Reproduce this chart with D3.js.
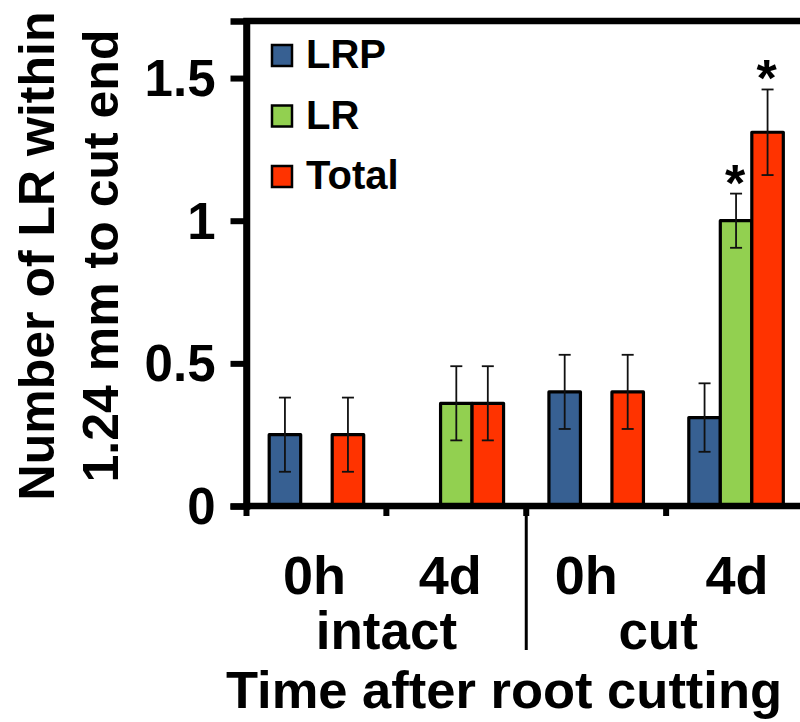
<!DOCTYPE html>
<html>
<head>
<meta charset="utf-8">
<script src="https://cdn.jsdelivr.net/npm/d3@7"></script>
<style>
  html, body { margin: 0; padding: 0; background: #fff; }
  svg { display: block; }
  text { font-family: "Liberation Sans", Arial, sans-serif; font-weight: bold; fill: #000; }
</style>
</head>
<body>
<svg id="chart" width="800" height="722"></svg>
<script>
// Time points and treatment groups along the x axis
const categories = ["0h", "4d", "0h", "4d"];
const groups = ["intact", "cut"];
const seriesNames = ["LRP", "LR", "Total"];

// Mean number of LR within 1.24 mm of the cut end
const lrpValues   = [0.25, 0, 0.40, 0.31];
const lrValues    = [0, 0.36, 0, 1.00];
const totalValues = [0.25, 0.36, 0.40, 1.31];

// Error bar half-lengths
const lrpErrors   = [0.13, 0, 0.13, 0.12];
const lrErrors    = [0, 0.13, 0, 0.095];
const totalErrors = [0.13, 0.13, 0.13, 0.15];

// Significance marks
const lrpMarks   = ["", "", "", ""];
const lrMarks    = ["", "", "", "*"];
const totalMarks = ["", "", "", "*"];

const yTicks = [0, 0.5, 1, 1.5];
const yTickLabels = ["0", "0.5", "1", "1.5"];
const colors = ["#376092", "#92D050", "#FF3300"];

const series = [
  { name: seriesNames[0], values: lrpValues,   errors: lrpErrors,   marks: lrpMarks,   color: colors[0] },
  { name: seriesNames[1], values: lrValues,    errors: lrErrors,    marks: lrMarks,    color: colors[1] },
  { name: seriesNames[2], values: totalValues, errors: totalErrors, marks: totalMarks, color: colors[2] }
];

const svg = d3.select("#chart");
const plotLeft = 246.5, plotRight = 806, plotTop = 21, plotBottom = 506;
// small horizontal nudges for the category labels (layout only)
const labelNudge = [-2, -6, -10, 1];

const x = d3.scaleBand().domain(d3.range(categories.length)).range([plotLeft, plotRight]).paddingInner(0).paddingOuter(0);
const xs = d3.scaleBand().domain(seriesNames).range([0, x.bandwidth()]).paddingInner(0).paddingOuter(0.72);
const y = d3.scaleLinear().domain([0, 1.7]).range([plotBottom, plotTop]);

// Bars
const barLayer = svg.append("g");
series.forEach(s => {
  barLayer.selectAll(null)
    .data(s.values.map((v, i) => ({ v, i })).filter(d => d.v > 0))
    .enter().append("rect")
    .attr("x", d => x(d.i) + xs(s.name))
    .attr("y", d => y(d.v))
    .attr("width", xs.bandwidth())
    .attr("height", d => y(0) - y(d.v))
    .attr("fill", s.color)
    .attr("stroke", "#000")
    .attr("stroke-width", 3.2)
    .attr("stroke-linejoin", "round");
});

// Error bars
const errLayer = svg.append("g").attr("stroke", "#111").attr("stroke-width", 1.8);
series.forEach(s => {
  const pts = s.values.map((v, i) => ({ v, e: s.errors[i], i })).filter(d => d.v > 0);
  const g = errLayer.selectAll(null).data(pts).enter().append("g")
    .attr("transform", d => `translate(${x(d.i) + xs(s.name) + xs.bandwidth() / 2},0)`);
  g.append("line").attr("x1", 0).attr("x2", 0).attr("y1", d => y(d.v + d.e)).attr("y2", d => y(d.v - d.e));
  g.append("line").attr("x1", -6).attr("x2", 6).attr("y1", d => y(d.v + d.e)).attr("y2", d => y(d.v + d.e));
  g.append("line").attr("x1", -6).attr("x2", 6).attr("y1", d => y(d.v - d.e)).attr("y2", d => y(d.v - d.e));
});

// Significance asterisks above the error bars
series.forEach(s => {
  svg.selectAll(null)
    .data(s.values.map((v, i) => ({ v, e: s.errors[i], m: s.marks[i], i })).filter(d => d.m))
    .enter().append("text")
    .attr("x", d => x(d.i) + xs(s.name) + xs.bandwidth() / 2 - 1)
    .attr("y", d => y(d.v + d.e) + 7)
    .attr("text-anchor", "middle")
    .attr("font-size", 52)
    .text(d => d.m);
});

// Plot frame (top and right edges)
svg.append("path")
  .attr("d", `M${plotLeft},${plotBottom} L${plotLeft},${plotTop} L${plotRight},${plotTop} L${plotRight},${plotBottom}`)
  .attr("fill", "none").attr("stroke", "#000").attr("stroke-width", 6.5);

// Y axis
const yAxis = svg.append("g").attr("transform", `translate(${plotLeft},0)`)
  .call(d3.axisLeft(y).tickValues(yTicks).tickFormat((d, i) => yTickLabels[i]).tickSize(16).tickPadding(15));
yAxis.select(".domain").attr("stroke", "#000").attr("stroke-width", 6.5);
yAxis.selectAll(".tick line").attr("stroke", "#000").attr("stroke-width", 6);
yAxis.selectAll(".tick text").attr("font-size", 51).attr("font-family", "Liberation Sans, Arial, sans-serif").attr("font-weight", "bold").attr("dy", "0.34em");

// X axis line and category ticks
const boundaries = d3.range(categories.length).map(i => x(i));
svg.append("line").attr("x1", plotLeft - 3).attr("x2", plotRight).attr("y1", plotBottom).attr("y2", plotBottom)
  .attr("stroke", "#000").attr("stroke-width", 6.5);
svg.selectAll(null).data(boundaries).enter().append("line")
  .attr("x1", d => d).attr("x2", d => d).attr("y1", plotBottom).attr("y2", plotBottom + 10)
  .attr("stroke", "#000").attr("stroke-width", 6);

// Separator between the two groups
const groupSplit = x(2);
svg.append("line").attr("x1", groupSplit).attr("x2", groupSplit).attr("y1", plotBottom).attr("y2", 650)
  .attr("stroke", "#000").attr("stroke-width", 3);

// Category labels
svg.selectAll(null).data(categories).enter().append("text")
  .attr("x", (d, i) => x(i) + x.bandwidth() / 2 + labelNudge[i])
  .attr("y", 594)
  .attr("text-anchor", "middle").attr("font-size", 54)
  .text(d => d);

// Group labels
svg.selectAll(null).data(groups).enter().append("text")
  .attr("x", (d, i) => (x(i * 2) + x(i * 2 + 1) + x.bandwidth()) / 2 - (i ? 8 : 0))
  .attr("y", 649)
  .attr("text-anchor", "middle").attr("font-size", 53)
  .text(d => d);

// X axis title
svg.append("text").attr("x", 504).attr("y", 708).attr("text-anchor", "middle").attr("font-size", 52.5)
  .text("Time after root cutting");

// Y axis title (two lines)
const yTitle = svg.append("text").attr("transform", "translate(0,256) rotate(-90)").attr("text-anchor", "middle").attr("font-size", 50);
yTitle.append("tspan").attr("x", 0).attr("y", 54).text("Number of LR within");
yTitle.append("tspan").attr("x", 0).attr("y", 118).text("1.24 mm to cut end");

// Legend
const legend = svg.append("g");
const lg = legend.selectAll(null).data(series).enter().append("g")
  .attr("transform", (d, i) => `translate(272,${45 + i * 60.5})`);
lg.append("rect").attr("width", 20).attr("height", 21).attr("fill", d => d.color)
  .attr("stroke", "#000").attr("stroke-width", 2.5);
lg.append("text").attr("x", 34).attr("y", 23).attr("font-size", 40).text(d => d.name);
</script>
</body>
</html>
